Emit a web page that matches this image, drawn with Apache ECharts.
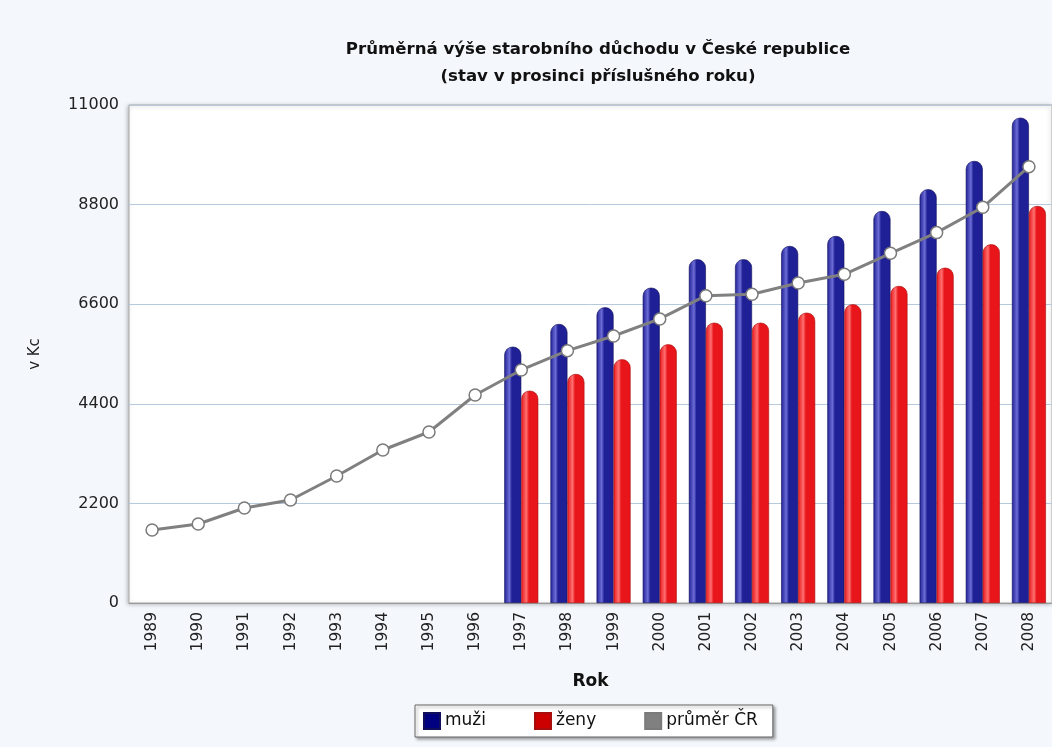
<!DOCTYPE html>
<html>
<head>
<meta charset="utf-8">
<script src="https://cdn.jsdelivr.net/npm/echarts@6/dist/echarts.min.js"></script>
<style>
    html, body { margin: 0; padding: 0; background: #f4f8fc; }
    #chart { width: 1052px; height: 747px; }
</style>
</head>
<body>
<div id="chart"></div>
<script>
// roky na ose x
const years = ['1989', '1990', '1991', '1992', '1993', '1994', '1995', '1996', '1997', '1998',
    '1999', '2000', '2001', '2002', '2003', '2004', '2005', '2006', '2007', '2008']
// průměrný důchod mužů (od 1997)
const muzi = [null, null, null, null, null, null, null, null, 5662, 6163,
    6532, 6965, 7593, 7593, 7886, 8107, 8659, 9139, 9764, 10720]
// průměrný důchod žen (od 1997)
const zeny = [null, null, null, null, null, null, null, null, 4690, 5059,
    5383, 5714, 6192, 6192, 6413, 6598, 7003, 7407, 7924, 8770]
// průměr ČR
const prumer = [1613, 1745, 2099, 2275, 2805, 3380, 3777, 4595, 5147, 5574,
    5898, 6274, 6788, 6819, 7069, 7261, 7725, 8181, 8741, 9638]

const font = '"DejaVu Sans", Verdana, sans-serif'

// válcový přechod pro sloupce
const cylinder = (dark, light) => new echarts.graphic.LinearGradient(0, 0, 1, 0, [
    { offset: 0, color: dark },
    { offset: 0.3, color: light },
    { offset: 0.45, color: dark },
    { offset: 1, color: dark }
])

const chart = echarts.init(document.getElementById('chart'))
chart.setOption({
    backgroundColor: '#f4f8fc',
    animation: false,
    title: {
        text: 'Průměrná výše starobního důchodu v České republice\n(stav v prosinci příslušného roku)',
        left: 593,
        top: 31,
        textAlign: 'center',
        textStyle: { fontFamily: font, fontSize: 16.6, fontWeight: 'bold', color: '#111', lineHeight: 27 }
    },
    legend: {
        data: [
            { name: 'muži', itemStyle: { color: '#000080' } },
            { name: 'ženy', itemStyle: { color: '#cc0000' } },
            { name: 'průměr ČR', itemStyle: { color: '#808080' }, lineStyle: { opacity: 0 } }
        ],
        icon: 'rect',
        left: 415,
        top: 705,
        itemWidth: 16,
        itemHeight: 16,
        itemGap: 48,
        padding: [7, 15, 7, 8],
        backgroundColor: '#fff',
        borderColor: '#666',
        borderWidth: 1,
        shadowColor: 'rgba(0,0,0,0.35)',
        shadowBlur: 3,
        shadowOffsetX: 2,
        shadowOffsetY: 2,
        textStyle: { fontFamily: font, fontSize: 17, color: '#111' }
    },
    grid: {
        left: 129,
        top: 105,
        width: 926,
        bottom: 144,
        show: true,
        backgroundColor: '#fff',
        borderColor: '#aaa',
        borderWidth: 1,
        shadowColor: 'rgba(0,0,0,0.25)',
        shadowBlur: 4,
        shadowOffsetX: -1,
        shadowOffsetY: 1
    },
    xAxis: {
        type: 'category',
        data: years,
        name: 'Rok',
        nameLocation: 'middle',
        nameGap: 70,
        nameTextStyle: { fontFamily: font, fontSize: 17, fontWeight: 'bold', color: '#111' },
        axisLine: { lineStyle: { color: '#999' } },
        axisTick: { show: false },
        axisLabel: { rotate: 90, fontFamily: font, fontSize: 15.5, color: '#222', margin: 9 }
    },
    yAxis: {
        type: 'value',
        min: 0,
        max: 11000,
        interval: 2200,
        name: 'v Kc',
        nameLocation: 'middle',
        nameRotate: 90,
        nameGap: 86,
        nameTextStyle: { fontFamily: font, fontSize: 15, color: '#222' },
        axisLine: { show: false },
        axisTick: { show: false },
        axisLabel: { fontFamily: font, fontSize: 16, color: '#222', margin: 10, formatter: v => String(v) },
        splitLine: { lineStyle: { color: '#b6c9dd', width: 1 } }
    },
    series: [
        {
            name: 'muži',
            type: 'bar',
            data: muzi,
            barWidth: 17,
            barGap: '0%',
            itemStyle: {
                color: cylinder('#1f1f96', '#6d6dd6'),
                borderColor: '#10105a',
                borderWidth: 0.6,
                borderRadius: [8, 8, 0, 0]
            }
        },
        {
            name: 'ženy',
            type: 'bar',
            data: zeny,
            barWidth: 17,
            barGap: '0%',
            itemStyle: {
                color: cylinder('#e8161a', '#ff7070'),
                borderColor: '#a80c0c',
                borderWidth: 0.6,
                borderRadius: [8, 8, 0, 0]
            }
        },
        {
            name: 'průměr ČR',
            type: 'line',
            data: prumer,
            z: 5,
            symbol: 'circle',
            symbolSize: 12,
            lineStyle: { color: '#808080', width: 3 },
            itemStyle: { color: '#fff', borderColor: '#7a7a7a', borderWidth: 1.5 }
        }
    ]
})
</script>
</body>
</html>
